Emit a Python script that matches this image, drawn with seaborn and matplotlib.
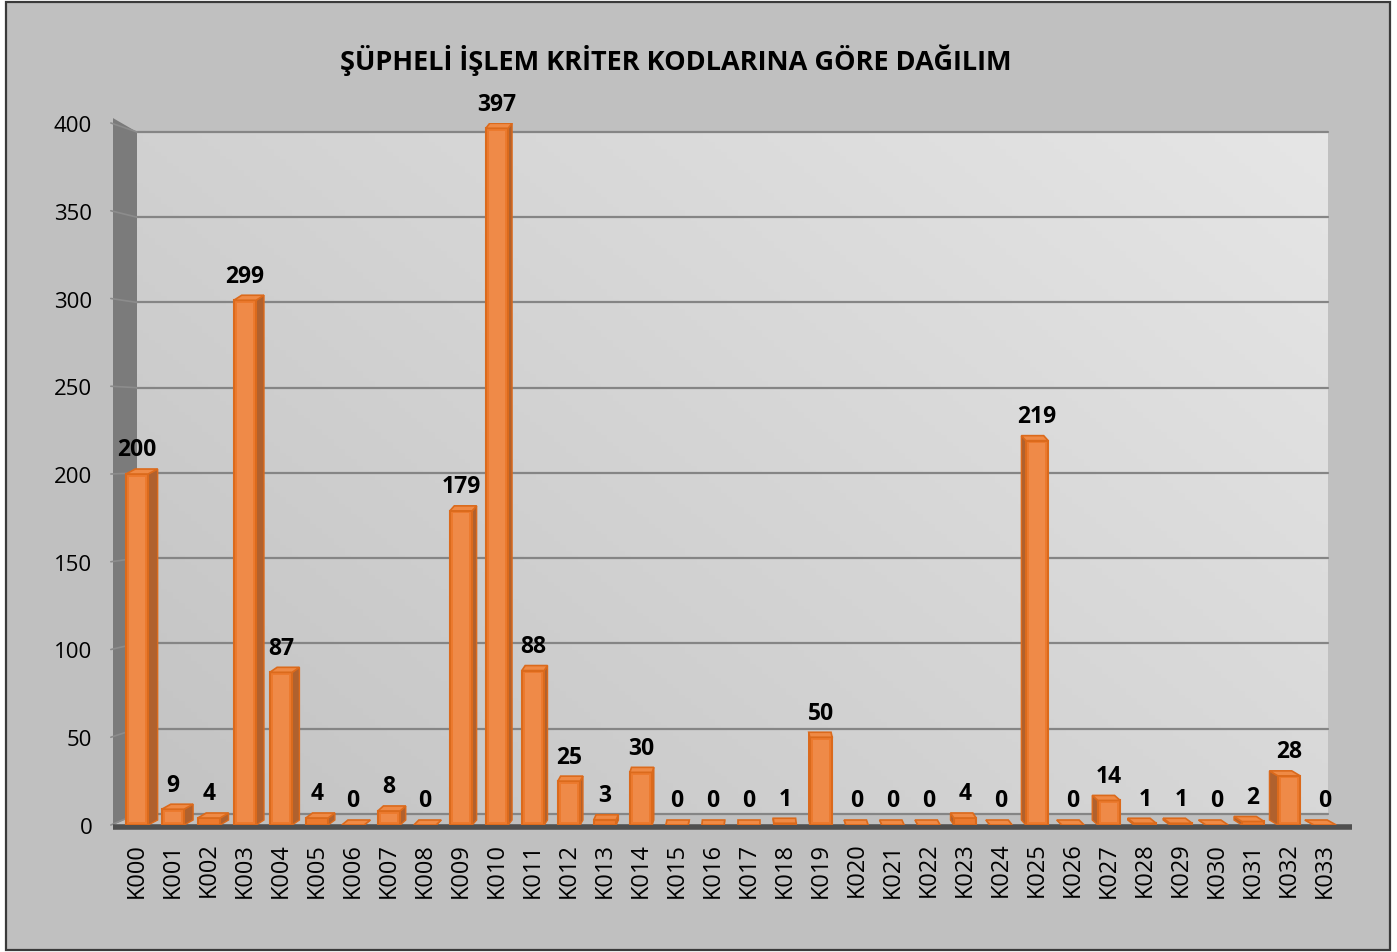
import numpy as np
import matplotlib.pyplot as plt
import seaborn as sns
from matplotlib.patches import Polygon, Rectangle

# ---- data ----
codes = ['K000', 'K001', 'K002', 'K003', 'K004', 'K005', 'K006', 'K007', 'K008', 'K009',
         'K010', 'K011', 'K012', 'K013', 'K014', 'K015', 'K016', 'K017', 'K018', 'K019',
         'K020', 'K021', 'K022', 'K023', 'K024', 'K025', 'K026', 'K027', 'K028', 'K029',
         'K030', 'K031', 'K032', 'K033']
counts = [200, 9, 4, 299, 87, 4, 0, 8, 0, 179,
          397, 88, 25, 3, 30, 0, 0, 0, 1, 50,
          0, 0, 0, 4, 0, 219, 0, 14, 1, 1,
          0, 2, 28, 0]
y_ticks = [0, 50, 100, 150, 200, 250, 300, 350, 400]
title = 'ŞÜPHELİ İŞLEM KRİTER KODLARINA GÖRE DAĞILIM'

# ---- style ----
FONT = ['Open Sans', 'DejaVu Sans']
BG = '#c0c0c0'
BAR_FACE = '#ec7a2e'
BAR_EDGE = '#db6a1c'
BAR_SIDE = '#b0612e'
BAR_TOP = '#ef8a45'
BAR_HI = '#f2955a'
W, H = 1397, 953
PX_X = 36.0          # pixels per category
PX_Y = 1.755         # pixels per unit on the front plane
WALL_Y0, WALL_K = 6.3, 0.9715   # back wall is drawn a bit smaller (perspective)

sns.set_theme(style='white')
plt.rcParams['font.family'] = FONT

fig = plt.figure(figsize=(W / 100, H / 100), dpi=100, facecolor='white')
fig.patches.append(Rectangle((6 / W, 2 / H), 1384 / W, 948 / H, transform=fig.transFigure,
                             facecolor=BG, edgecolor='#3a3a3a', lw=1.6, zorder=-10))

left_px, right_px, bot_px, top_px = 113, 1352, 826, 124
ax = fig.add_axes([left_px / W, 1 - bot_px / H, (right_px - left_px) / W, (bot_px - top_px) / H])
ax.set_facecolor('none')
ax.set_zorder(1)

# bars (front faces)
sns.barplot(x=codes, y=counts, color=BAR_FACE, width=0.62, saturation=1, ax=ax, zorder=3,
            edgecolor=BAR_EDGE, linewidth=1.5)
bars = list(ax.containers[0])

XLIM = (-(137 - left_px) / PX_X, (right_px - 137) / PX_X)

def wall(v):
    return WALL_Y0 + WALL_K * v

wall_x1 = (1328 - 137) / PX_X
xl = XLIM[0]

# back wall with a soft diagonal gradient
gx, gy = np.meshgrid(np.linspace(0, 1, 200), np.linspace(0, 1, 200))
grad = (gx * 0.6 + gy * 0.4)
ax.imshow(grad, extent=[0, wall_x1, wall(0), wall(400)], origin='lower', aspect='auto',
          cmap=sns.blend_palette(['#c3c3c3', '#e6e6e6'], as_cmap=True), zorder=0)
ax.set_xlim(*XLIM)
ax.set_ylim(0, 400)

# left wall
ax.add_patch(Polygon([(xl, 402.8), (0, wall(400)), (0, wall(0)), (xl, 0)], closed=True,
                     facecolor='#7b7b7b', edgecolor='none', zorder=0.5, clip_on=False))

# gridlines on back wall + slanted part on the left wall
for t in y_ticks:
    ax.plot([0, wall_x1], [wall(t), wall(t)], color='#858585', lw=1.6, zorder=0.8)
    ax.plot([xl - 0.06, 0], [t, wall(t)], color='#8c8c8c', lw=1.2, zorder=0.8, clip_on=False)

# floor edge
ax.plot([xl, XLIM[1]], [-1.4, -1.4], color='#4f4f4f', lw=4, zorder=1.5,
        clip_on=False, solid_capstyle='butt')

dy = 5 / PX_Y
for i, (p, v) in enumerate(zip(bars, counts)):
    x0, x1, h = p.get_x(), p.get_x() + p.get_width(), p.get_height()
    dx = 9.5 * (17 - i) / 17 / PX_X
    xs = x1 if dx > 0 else x0
    ax.add_patch(Polygon([(xs, 0), (xs, h), (xs + dx, h + dy), (xs + dx, dy)], closed=True,
                         facecolor=BAR_SIDE, edgecolor=BAR_EDGE, lw=1, zorder=2.5))
    ax.add_patch(Polygon([(x0, h), (x1, h), (x1 + dx, h + dy), (x0 + dx, h + dy)], closed=True,
                         facecolor=BAR_TOP, edgecolor=BAR_EDGE, lw=1.2, zorder=3.5))
    # lighter inner highlight on the front face
    if h > 4:
        ax.add_patch(Rectangle((x0 + 0.1, 1.5), x1 - x0 - 0.2, h - 3, facecolor=BAR_HI,
                               edgecolor='none', alpha=0.6, zorder=3.2))
    ax.annotate(str(v), (p.get_x() + p.get_width() / 2, h), xytext=(0, 9),
                textcoords='offset points', ha='center', va='bottom',
                fontsize=16.5, fontweight='bold', color='black', family=FONT)

ax.set_yticks(y_ticks)
ax.set_yticklabels([str(t) for t in y_ticks], fontsize=16, color='black')
ax.tick_params(axis='y', length=0, pad=15)
ax.tick_params(axis='x', length=0, pad=12, labelsize=17, labelcolor='black')
plt.setp(ax.get_xticklabels(), rotation=90, ha='center', va='top')
ax.set_xlabel('')
ax.set_ylabel('')
for s in ax.spines.values():
    s.set_visible(False)
ax.grid(False)

fig.text(676 / W, 1 - 60 / H, title, ha='center', va='center', fontsize=19.5,
         fontweight='bold', color='black', family=FONT)

fig.savefig('out.png', dpi=100, facecolor=fig.get_facecolor())
